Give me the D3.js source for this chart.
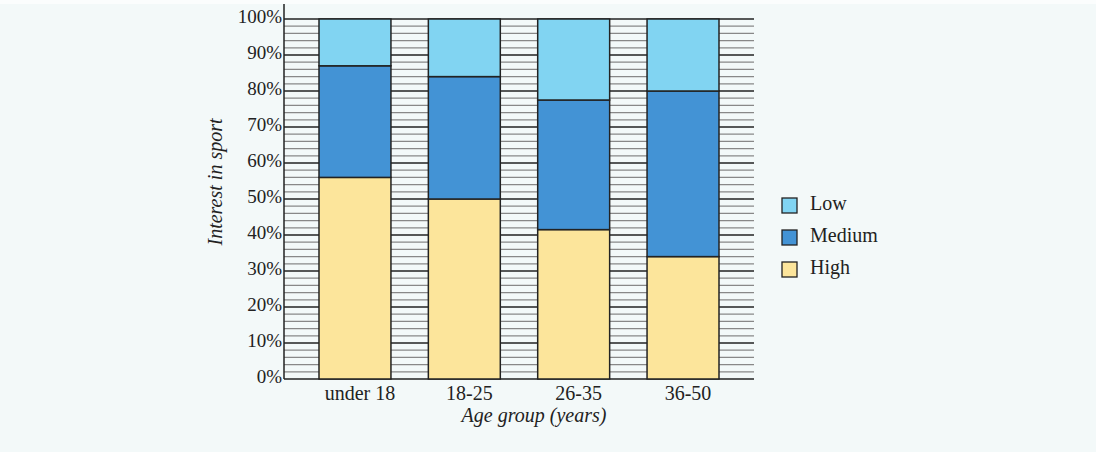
<!DOCTYPE html>
<html>
<head>
<meta charset="utf-8">
<script src="https://cdn.jsdelivr.net/npm/d3@7"></script>
<style>
  html, body { margin: 0; padding: 0; background: #fbfdfd; }
  svg { display: block; }
  text { font-family: "Liberation Serif", "DejaVu Serif", serif; fill: #222; }
</style>
</head>
<body>
<svg width="1096" height="452"></svg>
<script>
// age groups and share of each interest level (percent)
var ageGroups = ["under 18", "18-25", "26-35", "36-50"];
var highVals = [56, 50, 41.5, 34];
var mediumVals = [31, 34, 36, 46];
var lowVals = [13, 16, 22.5, 20];
var levels = ["High", "Medium", "Low"];
var levelColors = ["#fce59b", "#4393d5", "#81d4f2"];
var yTicks = [0, 10, 20, 30, 40, 50, 60, 70, 80, 90, 100];

var svg = d3.select("svg");
svg.append("rect").attr("x", 0).attr("y", 4).attr("width", 1096).attr("height", 448)
  .style("fill", "#f3f9f9");

var plotLeft = 284, plotRight = 754, plotTop = 19, plotBottom = 379;

var yScale = d3.scaleLinear().domain([0, 100]).range([plotBottom, plotTop]);
var xScale = d3.scaleBand().domain(ageGroups).range([319, 719])
  .paddingInner(0.342).paddingOuter(0);

var rows = ageGroups.map(function(g, i) {
  return { group: g, High: highVals[i], Medium: mediumVals[i], Low: lowVals[i] };
});
var stacked = d3.stack().keys(levels)(rows);

// minor grid every 2%
var minor = d3.range(2, 100, 2).filter(function(v) { return v % 10 != 0; });
svg.append("g").selectAll("line").data(minor).enter().append("line")
  .attr("x1", plotLeft).attr("x2", plotRight)
  .attr("y1", d => yScale(d)).attr("y2", d => yScale(d))
  .style("stroke", "#888").style("stroke-width", 1.3);

// major grid
svg.append("g").selectAll("line").data(yTicks).enter().append("line")
  .attr("x1", plotLeft).attr("x2", plotRight)
  .attr("y1", d => yScale(d)).attr("y2", d => yScale(d))
  .style("stroke", "#222").style("stroke-width", 1.5);

// y axis line
svg.append("line").attr("x1", plotLeft).attr("x2", plotLeft).attr("y1", 4).attr("y2", plotBottom)
  .style("stroke", "#222").style("stroke-width", 1.5);

// bars
svg.append("g").selectAll("g").data(stacked).enter().append("g")
  .style("fill", (d, i) => levelColors[i])
  .selectAll("rect").data(d => d).enter().append("rect")
  .attr("x", d => xScale(d.data.group))
  .attr("y", d => yScale(d[1]))
  .attr("width", xScale.bandwidth())
  .attr("height", d => yScale(d[0]) - yScale(d[1]))
  .style("stroke", "#222").style("stroke-width", 1.5);

// tick labels
svg.append("g").selectAll("text").data(yTicks).enter().append("text")
  .attr("x", 282).attr("y", d => yScale(d) + 4)
  .attr("text-anchor", "end")
  .style("font-size", "19px")
  .text(d => d + "%");

svg.append("g").selectAll("text").data(ageGroups).enter().append("text")
  .attr("x", d => xScale(d) + xScale.bandwidth() / 2 + 5).attr("y", 400)
  .attr("text-anchor", "middle")
  .style("font-size", "20px")
  .text(d => d);

// axis titles
svg.append("text").attr("x", 534).attr("y", 422)
  .attr("text-anchor", "middle")
  .style("font-size", "20px").style("font-style", "italic")
  .text("Age group (years)");

svg.append("text").attr("transform", "translate(222,182) rotate(-90)")
  .attr("text-anchor", "middle")
  .style("font-size", "20px").style("font-style", "italic")
  .text("Interest in sport");

// legend, Low on top
var legendItems = levels.slice().reverse();
var legend = svg.append("g").selectAll("g").data(legendItems).enter().append("g")
  .attr("transform", (d, i) => "translate(782," + (198 + i * 32) + ")");
legend.append("rect").attr("width", 15).attr("height", 15)
  .style("fill", d => levelColors[levels.indexOf(d)])
  .style("stroke", "#222").style("stroke-width", 1.3);
legend.append("text").attr("x", 28).attr("y", 12)
  .style("font-size", "20px")
  .text(d => d);
</script>
</body>
</html>
